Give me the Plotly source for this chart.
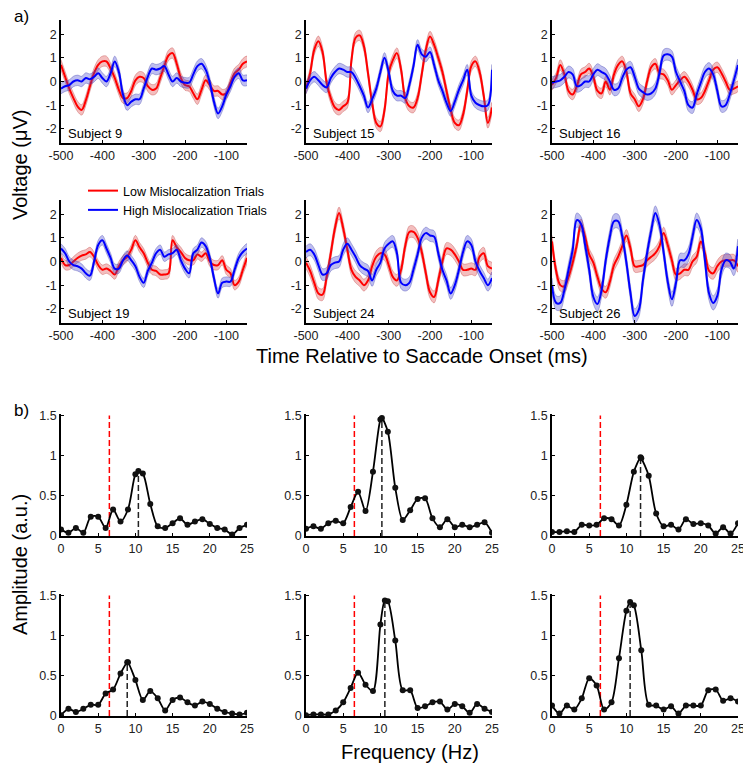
import plotly.graph_objects as go

# ---- panel a: ERP time courses ----
time_ms = list(range(-500, -40, 10))
subjects = ["Subject 9", "Subject 15", "Subject 16", "Subject 19", "Subject 24", "Subject 26"]

low_s9 = [0.7, 0.2, -0.3, -0.7, -1.05, -1.2, -0.8, -0.2, 0.35, 0.7, 0.85, 0.85, 0.55, 0.15, -0.35, -0.7,
          -0.7, -0.4, 0.05, 0.2, 0.15, -0.2, -0.35, -0.3, 0.15, 0.65, 1.1, 1.2, 0.75, 0.15, -0.15, -0.2,
          -0.5, -0.75, -0.35, 0.05, -0.15, -0.4, -0.4, -0.55, -0.5, -0.05, 0.35, 0.5, 0.75, 0.85]
high_s9 = [-0.3, -0.2, -0.15, 0.0, 0.05, 0.0, 0.15, 0.1, 0.2, 0.35, 0.15, 0.0, 0.35, 0.85, 0.4, -0.55,
           -1.0, -0.85, -0.75, -0.75, -0.3, 0.2, 0.55, 0.5, 0.55, 0.65, 0.3, 0.0, 0.15, 0.0, -0.05, -0.05,
           0.3, 0.65, 0.75, 0.5, -0.05, -0.85, -1.35, -1.05, -0.55, -0.2, 0.2, 0.35, 0.05, 0.05]

low_s15 = [-0.3, 0.35, 1.35, 1.7, 1.25, -0.05, -0.7, -1.1, -1.2, -1.05, -0.9, 0.9, 1.85, 1.95, 1.5, 0.35,
           -0.9, -1.75, -1.9, -1.2, 0.35, 0.9, 1.2, 0.5, -0.7, -1.05, -1.1, -0.7, 0.3, 1.35, 1.9, 1.55,
           1.0, 0.4, -0.4, -1.2, -1.75, -1.85, -1.4, -0.4, 0.65, 0.85, 0.4, -0.6, -1.75, -1.1]
high_s15 = [-0.3, 0.05, 0.2, 0.05, -0.15, -0.25, 0.15, 0.4, 0.55, 0.5, 0.4, 0.4, 0.15, -0.2, -0.6, -1.1,
            -0.75, -0.3, 0.4, 1.0, 0.4, -0.4, -0.6, -0.6, -0.7, -0.15, 0.65, 1.55, 1.15, 1.05, 1.25, 0.7,
            0.05, -0.4, -0.9, -1.25, -0.85, -0.35, 0.05, 0.5, -0.6, -0.9, -1.0, -1.05, -1.0, 0.5]

low_s16 = [-0.15, 0.15, 0.7, 0.3, -0.4, -0.55, -0.2, 0.3, 0.4, 0.55, 0.2, -0.4, -0.5, 0.0, -0.35, 0.3,
           0.7, 0.85, 0.4, -0.5, -0.75, -1.05, -0.75, 0.0, 0.6, 0.75, 0.35, 0.3, 0.05, -0.35, -0.15, 0.05,
           0.2, 0.0, -0.35, -0.75, -0.7, -0.4, 0.05, 0.5, 0.6, 0.35, 0.0, -0.35, -0.3, -0.2]
high_s16 = [-0.05, 0.0, 0.05, 0.2, 0.4, 0.3, -0.2, -0.15, 0.0, 0.0, 0.3, 0.5, 0.4, 0.3, 0.0, -0.35,
            -0.3, 0.15, 0.5, 0.6, 0.2, -0.3, -0.45, -0.55, -0.5, -0.3, 0.35, 1.1, 1.15, 1.05, 0.4, 0.0,
            -0.4, -1.0, -1.1, -0.55, -0.05, 0.4, 0.55, 0.3, -0.4, -1.05, -1.0, -0.55, 0.05, 0.7]

low_s19 = [0.15, -0.15, -0.15, 0.0, 0.15, 0.25, 0.3, 0.4, 0.2, -0.15, -0.35, -0.3, -0.4, -0.55, -0.2, 0.05,
           0.2, 0.5, 0.9, 0.6, 0.35, -0.05, -0.35, -0.4, -0.55, -0.55, -0.5, 0.9, 0.6, 0.4, 0.15, 0.05,
           0.05, 0.3, 0.2, 0.35, 0.0, -0.15, -0.15, 0.05, -0.35, -0.5, -1.0, -0.85, -0.35, 0.15]
high_s19 = [0.55, 0.35, 0.0, -0.15, -0.2, -0.3, -0.5, -0.6, 0.0, 0.7, 0.9, 0.55, 0.15, -0.3, -0.3, 0.05,
            0.25, 0.05, -0.2, -0.65, -0.9, -0.4, -0.05, 0.35, 0.5, 0.2, 0.3, 0.35, 0.5, 0.05, -0.3, -0.5,
            0.35, 0.5, 0.8, 0.65, 0.15, -0.7, -1.35, -0.9, -0.85, -0.85, -0.35, 0.15, 0.4, 0.55]

low_s24 = [-0.05, -0.4, -0.9, -1.35, -1.4, -0.65, 0.35, 1.4, 2.05, 1.4, 0.5, -0.35, -0.65, -0.8, -1.0, -0.8,
           -0.2, 0.2, 0.35, 0.3, -0.15, -0.65, -0.8, -0.35, 0.65, 1.25, 1.25, 1.0, 0.4, -0.5, -1.3, -1.5,
           -0.8, 0.0, 0.55, 0.5, 0.3, 0.0, -0.35, -0.35, -0.3, -0.35, 0.2, 0.35, -0.2, -0.3]
high_s24 = [0.4, 0.5, 0.3, -0.15, -0.55, -0.5, -0.15, -0.05, 0.0, 0.5, 0.75, 0.5, 0.2, -0.15, -0.3, -0.4,
            -0.8, -0.35, -0.05, 0.55, 0.75, 0.85, 0.35, -0.9, -1.0, -0.9, -0.35, 0.3, 1.0, 1.2, 1.1, 1.05,
            0.35, -0.35, -0.8, -1.35, -1.0, -0.35, 0.4, 0.85, 0.7, 0.0, -0.4, -0.7, -1.0, -0.7]

low_s26 = [0.85, -0.4, -1.0, -1.05, -0.65, -0.05, 0.7, 1.55, 1.05, 0.3, -0.05, -0.65, -1.15, -1.3, -0.85, -0.15,
           0.2, 0.65, 1.1, 0.55, -0.2, -0.2, -0.15, 0.05, 0.2, 0.35, 0.65, 1.2, 0.7, 0.05, -0.55, -0.5,
           -0.35, -0.35, 0.0, 0.2, 0.85, 0.35, -0.4, -0.5, -0.2, 0.0, 0.05, 0.05, 0.05, -0.2]
high_s26 = [-1.0, -1.75, -1.75, -1.2, -0.35, 0.5, 1.75, 1.6, 0.7, -0.35, -1.5, -1.8, -1.2, 0.05, 1.05, 1.7,
            1.7, 1.05, -0.05, -1.35, -2.3, -2.05, -0.8, 0.35, 1.3, 2.05, 1.55, 0.4, -0.85, -1.6, -0.9, 0.05,
            0.05, 0.3, 1.05, 1.75, 1.4, 0.05, -1.35, -1.75, -1.45, -0.35, 0.05, 0.0, -0.3, 0.65]

low_trials = [low_s9, low_s15, low_s16, low_s19, low_s24, low_s26]
high_trials = [high_s9, high_s15, high_s16, high_s19, high_s24, high_s26]
sem_low = [0.22, 0.22, 0.22, 0.2, 0.25, 0.25]
sem_high = [0.22, 0.22, 0.25, 0.2, 0.25, 0.3]

time_ticks = [-500, -400, -300, -200, -100]
time_labels = ["-500", "-400", "-300", "-200", "-100"]
volt_ticks = [-2, -1, 0, 1, 2]
volt_labels = ["-2", "-1", "0", "1", "2"]

# ---- panel b: amplitude spectra ----
freq_hz = list(range(0, 26))
amp_s9 = [0.08, 0.04, 0.1, 0.04, 0.24, 0.24, 0.1, 0.33, 0.18, 0.33, 0.77, 0.78, 0.4, 0.12, 0.1, 0.16,
          0.22, 0.14, 0.18, 0.21, 0.15, 0.1, 0.08, 0.02, 0.1, 0.14]
amp_s15 = [0.09, 0.12, 0.09, 0.16, 0.19, 0.16, 0.36, 0.55, 0.31, 0.8, 1.45, 1.3, 0.6, 0.2, 0.32, 0.46,
           0.47, 0.22, 0.11, 0.21, 0.11, 0.14, 0.11, 0.14, 0.17, 0.04]
amp_s16 = [0.05, 0.05, 0.06, 0.05, 0.14, 0.13, 0.14, 0.22, 0.21, 0.13, 0.39, 0.8, 0.97, 0.75, 0.28, 0.12,
           0.14, 0.08, 0.21, 0.15, 0.16, 0.13, 0.03, 0.11, 0.03, 0.16]
amp_s19 = [0.01, 0.09, 0.05, 0.09, 0.14, 0.14, 0.28, 0.33, 0.53, 0.67, 0.45, 0.2, 0.31, 0.22, 0.07, 0.2,
           0.23, 0.17, 0.13, 0.18, 0.15, 0.09, 0.05, 0.03, 0.02, 0.04]
amp_s24 = [0.01, 0.02, 0.02, 0.02, 0.07, 0.17, 0.35, 0.54, 0.39, 0.31, 1.14, 1.43, 0.94, 0.32, 0.32, 0.1,
           0.12, 0.17, 0.18, 0.08, 0.15, 0.12, 0.04, 0.15, 0.09, 0.05]
amp_s26 = [0.13, 0.03, 0.13, 0.08, 0.22, 0.47, 0.38, 0.08, 0.17, 0.72, 1.31, 1.38, 0.82, 0.14, 0.13, 0.08,
           0.12, 0.03, 0.13, 0.13, 0.13, 0.32, 0.33, 0.19, 0.22, 0.18]
spectra = [amp_s9, amp_s15, amp_s16, amp_s19, amp_s24, amp_s26]
peak_freq = [10.4, 10.2, 11.9, 8.9, 10.6, 10.5]
peak_amp = [0.81, 1.47, 0.98, 0.67, 1.44, 1.42]
mislocalization_freq = 6.5
amp_max = 1.5

freq_ticks = [0, 5, 10, 15, 20, 25]
amp_ticks = [0, 0.5, 1, 1.5]
amp_labels = ["0", "0.5", "1", "1.5"]

W, H = 743, 765
cols_px = [(61, 247), (306, 492), (552, 738)]
rows_a_px = [(20, 143), (200, 323)]
rows_b_px = [(414, 536), (594, 716)]

FONT = "Liberation Sans, Arial, sans-serif"
RED = "#ff0000"
BLUE = "#0000ff"


def px(x):
    return x / W


def py(y):
    return 1 - y / H


def xdom(c):
    return [px(cols_px[c][0]), px(cols_px[c][1])]


def ydom(r):
    return [py(r[1]), py(r[0])]


def axis_style(**kw):
    d = dict(showline=True, linecolor="black", linewidth=1.5, ticks="inside", ticklen=3,
             tickcolor="black", showgrid=False, zeroline=False, mirror=False, automargin=False,
             ticklabeloverflow="allow", tickfont=dict(family=FONT, size=12.5, color="#222"),
             fixedrange=True)
    d.update(kw)
    return d


fig = go.Figure()
layout = {}
for i in range(6):
    r, c = divmod(i, 3)
    # top time-course axes
    n = i + 1
    xa = "x" if n == 1 else f"x{n}"
    ya = "y" if n == 1 else f"y{n}"
    layout["xaxis" if n == 1 else f"xaxis{n}"] = axis_style(
        domain=xdom(c), anchor=ya, range=[-500, -50], tickvals=time_ticks, ticktext=time_labels)
    layout["yaxis" if n == 1 else f"yaxis{n}"] = axis_style(
        domain=ydom(rows_a_px[r]), anchor=xa, range=[-2.6, 2.6], tickvals=volt_ticks, ticktext=volt_labels)

    for vals, sem, col, fillc, edgec, name in [
        (low_trials[i], sem_low[i], RED, "rgba(220,70,70,0.35)", "rgba(190,60,60,0.45)",
         "Low Mislocalization Trials"),
        (high_trials[i], sem_high[i], BLUE, "rgba(70,70,210,0.35)", "rgba(60,60,170,0.45)",
         "High Mislocalization Trials"),
    ]:
        upper = [v + sem for v in vals]
        lower = [v - sem for v in vals]
        fig.add_trace(go.Scatter(x=time_ms + time_ms[::-1], y=upper + lower[::-1], fill="toself",
                                 fillcolor=fillc, line=dict(color=edgec, width=0.8, shape="spline"),
                                 mode="lines", hoverinfo="skip", showlegend=False, xaxis=xa, yaxis=ya))
        fig.add_trace(go.Scatter(x=time_ms, y=vals, mode="lines", name=name,
                                 line=dict(color=col, width=2, shape="spline"),
                                 showlegend=(i == 0), xaxis=xa, yaxis=ya))

    fig.add_annotation(text=subjects[i], xref=f"{xa} domain", yref=f"{ya} domain", x=0.025, y=0.0,
                       xanchor="left", yanchor="bottom", showarrow=False,
                       font=dict(family=FONT, size=13, color="black"))

    # bottom spectrum axes
    m = i + 7
    xb, yb = f"x{m}", f"y{m}"
    layout[f"xaxis{m}"] = axis_style(domain=xdom(c), anchor=yb, range=[0, 25], tickvals=freq_ticks)
    layout[f"yaxis{m}"] = axis_style(domain=ydom(rows_b_px[r]), anchor=xb, range=[0, 1.52],
                                     tickvals=amp_ticks, ticktext=amp_labels)

    pts = sorted(zip(freq_hz + [peak_freq[i]], spectra[i] + [peak_amp[i]]))
    fig.add_trace(go.Scatter(x=[mislocalization_freq, mislocalization_freq], y=[0, amp_max], mode="lines",
                             line=dict(color=RED, width=1.5, dash="6px,3px"), showlegend=False,
                             xaxis=xb, yaxis=yb))
    fig.add_trace(go.Scatter(x=[peak_freq[i], peak_freq[i]], y=[0, peak_amp[i]], mode="lines",
                             line=dict(color="#222", width=1.5, dash="6px,3px"), showlegend=False,
                             xaxis=xb, yaxis=yb))
    fig.add_trace(go.Scatter(x=[p[0] for p in pts], y=[p[1] for p in pts], mode="lines+markers",
                             line=dict(color="black", width=1.8, shape="spline", smoothing=0.8),
                             marker=dict(color="#111", size=6), showlegend=False,
                             xaxis=xb, yaxis=yb))

big = dict(family=FONT, size=20, color="black")
lab = dict(family=FONT, size=17, color="black")


def label(text, x, y, font, angle=0, xanchor="center"):
    fig.add_annotation(text=text, x=px(x), y=py(y), xref="paper", yref="paper", showarrow=False,
                       xanchor=xanchor, yanchor="middle", textangle=angle, font=font)


label("a)", 12, 16, lab, xanchor="left")
label("b)", 12, 410, lab, xanchor="left")
label("Voltage (\u03bcV)", 20, 165, big, angle=-90)
label("Time Relative to Saccade Onset (ms)", 422, 356, big)
label("Amplitude (a.u.)", 20, 565, big, angle=-90)
label("Frequency (Hz)", 410, 752, big)

fig.update_layout(**layout)
fig.update_layout(width=W, height=H, margin=dict(l=0, r=0, t=0, b=0, autoexpand=False),
                  paper_bgcolor="white", plot_bgcolor="white",
                  legend=dict(x=px(83), y=py(176), xanchor="left", yanchor="top",
                              bgcolor="rgba(0,0,0,0)", font=dict(family=FONT, size=12.5, color="black"),
                              tracegroupgap=0, itemwidth=30))

# drop the default 8px body margin so the figure fills the window exactly
fig.write_html("out.html", config={"displayModeBar": False},
               post_script="document.body.style.margin='0px';")
